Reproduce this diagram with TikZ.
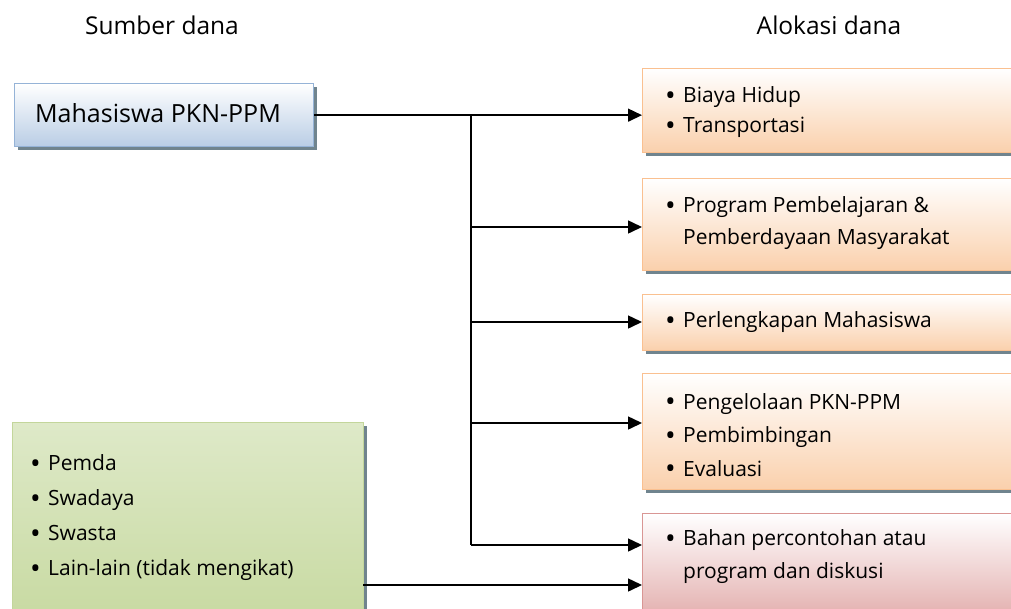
\documentclass[tikz,border=0pt]{standalone}
\usepackage{fontspec}
\setmainfont{Open Sans}
\usetikzlibrary{arrows.meta,shadows}
\definecolor{blueB}{RGB}{149,179,215}
\definecolor{blueF}{RGB}{185,205,229}
\definecolor{orB}{RGB}{250,192,144}
\definecolor{orF}{RGB}{250,208,172}
\definecolor{grB}{RGB}{195,214,155}
\definecolor{grF}{RGB}{200,218,162}
\definecolor{grT}{RGB}{222,233,200}
\definecolor{rdB}{RGB}{217,150,148}
\definecolor{rdF}{RGB}{228,178,177}
\definecolor{shad}{RGB}{112,132,142}
\newcommand\bul{\makebox[18pt][l]{\raisebox{-2.6pt}{\scalebox{1.35}{\textbullet}}}}
\newcommand\bulsp{\hspace*{18pt}}
\tikzset{
  boxbase/.style={rectangle, inner sep=0pt, line width=1.3pt, anchor=north west,
    drop shadow={shadow xshift=3pt, shadow yshift=-3pt, fill=shad, opacity=1}},
  bluebox/.style={boxbase, draw=blueB, top color=white, bottom color=blueF},
  orbox/.style={boxbase, draw=orB, top color=white, bottom color=orF},
  grbox/.style={boxbase, draw=grB, top color=grT, middle color=white, bottom color=grF},
  rdbox/.style={boxbase, draw=rdB, top color=white, bottom color=rdF},
  title/.style={font=\fontsize{24.5}{28}\selectfont, inner sep=0pt},
  listtxt/.style={anchor=west, align=left, inner sep=0pt},
  arr/.style={line width=1.5pt, -{Triangle[length=14pt,width=13pt]}},
  ln/.style={line width=1.5pt}
}
\begin{document}
\begin{tikzpicture}[x=1pt,y=-1pt]
\useasboundingbox (0,0) rectangle (1011,608);
\clip (0,0) rectangle (1011,608);
\fill[white] (0,0) rectangle (1011,608);

\node[title] (t1) at (162,25) {Sumber dana};
\node[title] (t2) at (829,25) {Alokasi dana};

\node[bluebox, minimum width=299pt, minimum height=63pt] (mhs) at (14,83) {};
\node[font=\fontsize{25}{28}\selectfont, inner sep=0pt] (mhst) at (158,113) {Mahasiswa PKN-PPM};

\node[orbox, minimum width=380pt, minimum height=84pt] (b1) at (642,68) {};
\node[orbox, minimum width=380pt, minimum height=92pt] (b2) at (642,178) {};
\node[orbox, minimum width=380pt, minimum height=56pt] (b3) at (642,294) {};
\node[orbox, minimum width=380pt, minimum height=116pt] (b4) at (642,373) {};
\node[rdbox, minimum width=380pt, minimum height=100pt] (b5) at (642,513) {};
\node[grbox, minimum width=351pt, minimum height=195pt] (g) at (12,422) {};

\node[listtxt, font=\fontsize{21}{30}\selectfont] (b1t) at (665,112) {\bul Biaya Hidup\\\bul Transportasi};
\node[listtxt, font=\fontsize{21}{32}\selectfont] (b2t) at (665,223) {\bul Program Pembelajaran \&\\\bulsp Pemberdayaan Masyarakat};
\node[listtxt, font=\fontsize{21}{32}\selectfont] (b3t) at (665,322) {\bul Perlengkapan Mahasiswa};
\node[listtxt, font=\fontsize{21}{33.5}\selectfont] (b4t) at (665,436) {\bul Pengelolaan PKN-PPM\\\bul Pembimbingan\\\bul Evaluasi};
\node[listtxt, font=\fontsize{21}{33}\selectfont] (b5t) at (665,556.5) {\bul Bahan percontohan atau\\\bulsp program dan diskusi};
\node[listtxt, font=\fontsize{21}{35}\selectfont] (gt) at (30,517.5) {\bul Pemda\\\bul Swadaya\\\bul Swasta\\\bul Lain-lain (tidak mengikat)};

\coordinate (j1) at (471,114.5);
\coordinate (j2) at (471,227);
\coordinate (j3) at (471,322);
\coordinate (j4) at (471,423);
\coordinate (j5) at (471,545);
\coordinate (gs) at (363,585);

\draw[arr] (mhs.east) -- (mhs.east -| b1.west);
\draw[ln] (j1) -- (j5);
\draw[arr] (j2) -- (j2 -| b2.west);
\draw[arr] (j3) -- (j3 -| b3.west);
\draw[arr] (j4) -- (j4 -| b4.west);
\draw[arr] (j5) -- (j5 -| b5.west);
\draw[arr] (gs) -- (gs -| b5.west);
\end{tikzpicture}
\end{document}
